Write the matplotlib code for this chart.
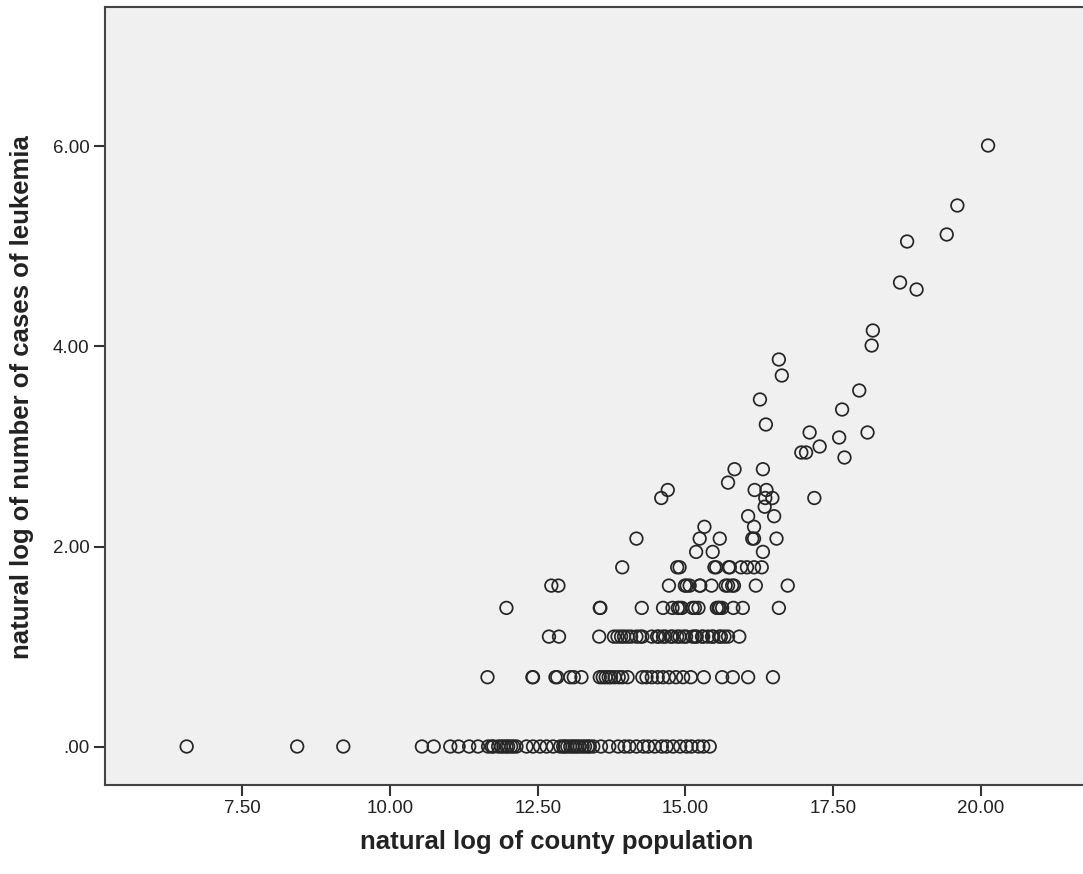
import matplotlib.pyplot as plt

plt.rcParams["font.family"] = ["Liberation Sans", "DejaVu Sans"]

# natural log of county population, grouped by the (log) number of leukemia cases
pop_cases_1 = [6.56, 8.43, 9.21, 10.54, 10.74, 11.02, 11.16, 11.34, 11.49, 11.66, 11.72,
               11.75, 11.83, 11.88, 11.92, 11.97, 12.00, 12.05, 12.09, 12.14, 12.31, 12.42,
               12.54, 12.65, 12.76, 12.88, 12.93, 12.96, 13.00, 13.05, 13.09, 13.13, 13.17,
               13.21, 13.26, 13.30, 13.35, 13.38, 13.44, 13.57, 13.71, 13.86, 13.97, 14.05,
               14.17, 14.29, 14.37, 14.48, 14.60, 14.68, 14.79, 14.91, 15.02, 15.10, 15.22,
               15.30, 15.41]
pop_cases_2 = [11.65, 12.41, 12.42, 12.80, 12.83, 13.05, 13.11, 13.24, 13.55, 13.60, 13.65,
               13.70, 13.74, 13.80, 13.87, 13.93, 14.02, 14.27, 14.34, 14.43, 14.53, 14.62,
               14.72, 14.84, 14.96, 15.09, 15.31, 15.62, 15.80, 16.06, 16.48]
pop_cases_3 = [12.69, 12.86, 13.54, 13.79, 13.85, 13.91, 13.96, 14.02, 14.08, 14.17, 14.23,
               14.27, 14.43, 14.52, 14.55, 14.62, 14.66, 14.75, 14.78, 14.86, 14.90, 14.97,
               15.01, 15.12, 15.16, 15.19, 15.28, 15.30, 15.38, 15.45, 15.47, 15.57, 15.60,
               15.66, 15.72, 15.91]
pop_cases_4 = [11.97, 13.55, 13.56, 14.26, 14.62, 14.78, 14.87, 14.90, 14.94, 15.12, 15.16,
               15.22, 15.53, 15.56, 15.58, 15.62, 15.81, 15.97, 16.58]
pop_cases_5 = [12.73, 12.85, 14.72, 14.99, 15.02, 15.07, 15.24, 15.25, 15.44, 15.68, 15.72,
               15.79, 15.82, 16.19, 16.73]
pop_cases_6 = [13.93, 14.86, 14.90, 15.49, 15.52, 15.73, 15.75, 15.94, 16.04, 16.16, 16.29]
pop_cases_7 = [15.18, 15.46, 16.31]
pop_cases_8 = [14.17, 15.24, 15.58, 16.13, 16.16, 16.54]
pop_cases_9 = [15.32, 16.16]
pop_cases_10 = [16.06, 16.50]
pop_cases_11 = [16.34]
pop_cases_12 = [14.59, 16.35, 16.47, 17.18]
pop_cases_13 = [14.70, 16.17, 16.37]
pop_cases_14 = [15.72]
pop_cases_16 = [15.83, 16.31]

# log cases for each group above (ln 1 ... ln 16)
group_log_cases = [0.000, 0.693, 1.099, 1.386, 1.609, 1.792, 1.946, 2.079, 2.197, 2.303,
                   2.398, 2.485, 2.565, 2.639, 2.773]

# larger counties, read one by one
upper_log_pop = [16.36, 17.10, 18.08, 17.60, 17.27, 16.96, 17.04, 17.69, 17.65, 16.26,
                 17.94, 16.63, 16.58, 18.15, 18.17, 18.63, 18.91, 18.75, 19.42, 19.60, 20.12]
upper_log_cases = [3.22, 3.14, 3.14, 3.09, 3.00, 2.94, 2.94, 2.89, 3.37, 3.47,
                   3.56, 3.71, 3.87, 4.01, 4.16, 4.64, 4.57, 5.05, 5.12, 5.41, 6.01]

x_ticks = [7.5, 10.0, 12.5, 15.0, 17.5, 20.0]
x_tick_labels = ["7.50", "10.00", "12.50", "15.00", "17.50", "20.00"]
y_ticks = [0, 2, 4, 6]
y_tick_labels = [".00", "2.00", "4.00", "6.00"]


def plot_leukemia(output_path=None):
    groups = [pop_cases_1, pop_cases_2, pop_cases_3, pop_cases_4, pop_cases_5, pop_cases_6,
              pop_cases_7, pop_cases_8, pop_cases_9, pop_cases_10, pop_cases_11,
              pop_cases_12, pop_cases_13, pop_cases_14, pop_cases_16]
    xs, ys = [], []
    for pops, lc in zip(groups, group_log_cases):
        xs += pops
        ys += [lc] * len(pops)
    xs += upper_log_pop
    ys += upper_log_cases

    fig = plt.figure(figsize=(10.83, 8.74), dpi=100)
    ax = fig.add_axes([105 / 1083, 89 / 874, 978 / 1083, 778 / 874])
    ax.set_facecolor("#F0F0F0")
    ax.scatter(xs, ys, s=82, facecolors="none", edgecolors="#262626", linewidths=1.25)

    ax.set_xlim(5.178, 21.726)
    ax.set_ylim(-0.385, 7.395)
    ax.set_xticks(x_ticks)
    ax.set_xticklabels(x_tick_labels)
    ax.set_yticks(y_ticks)
    ax.set_yticklabels(y_tick_labels)
    ax.tick_params(length=8, width=1.5, color="#333333", labelsize=13.5,
                   labelcolor="#222222", pad=3)
    for side in ["left", "bottom", "top"]:
        ax.spines[side].set_color("#444444")
        ax.spines[side].set_linewidth(1.5)
    ax.spines["right"].set_visible(False)

    fig.text(557 / 1083, 1 - 842 / 874, "natural log of county population",
             ha="center", va="center", fontsize=18.5, fontweight="bold", color="#222222")
    fig.text(22 / 1083, 1 - 397 / 874, "natural log of number of cases of leukemia",
             ha="center", va="center", rotation=90, fontsize=18.5, fontweight="bold",
             color="#222222")

    if output_path:
        fig.savefig(output_path, dpi=100)


if __name__ == "__main__":
    plot_leukemia("out.png")
